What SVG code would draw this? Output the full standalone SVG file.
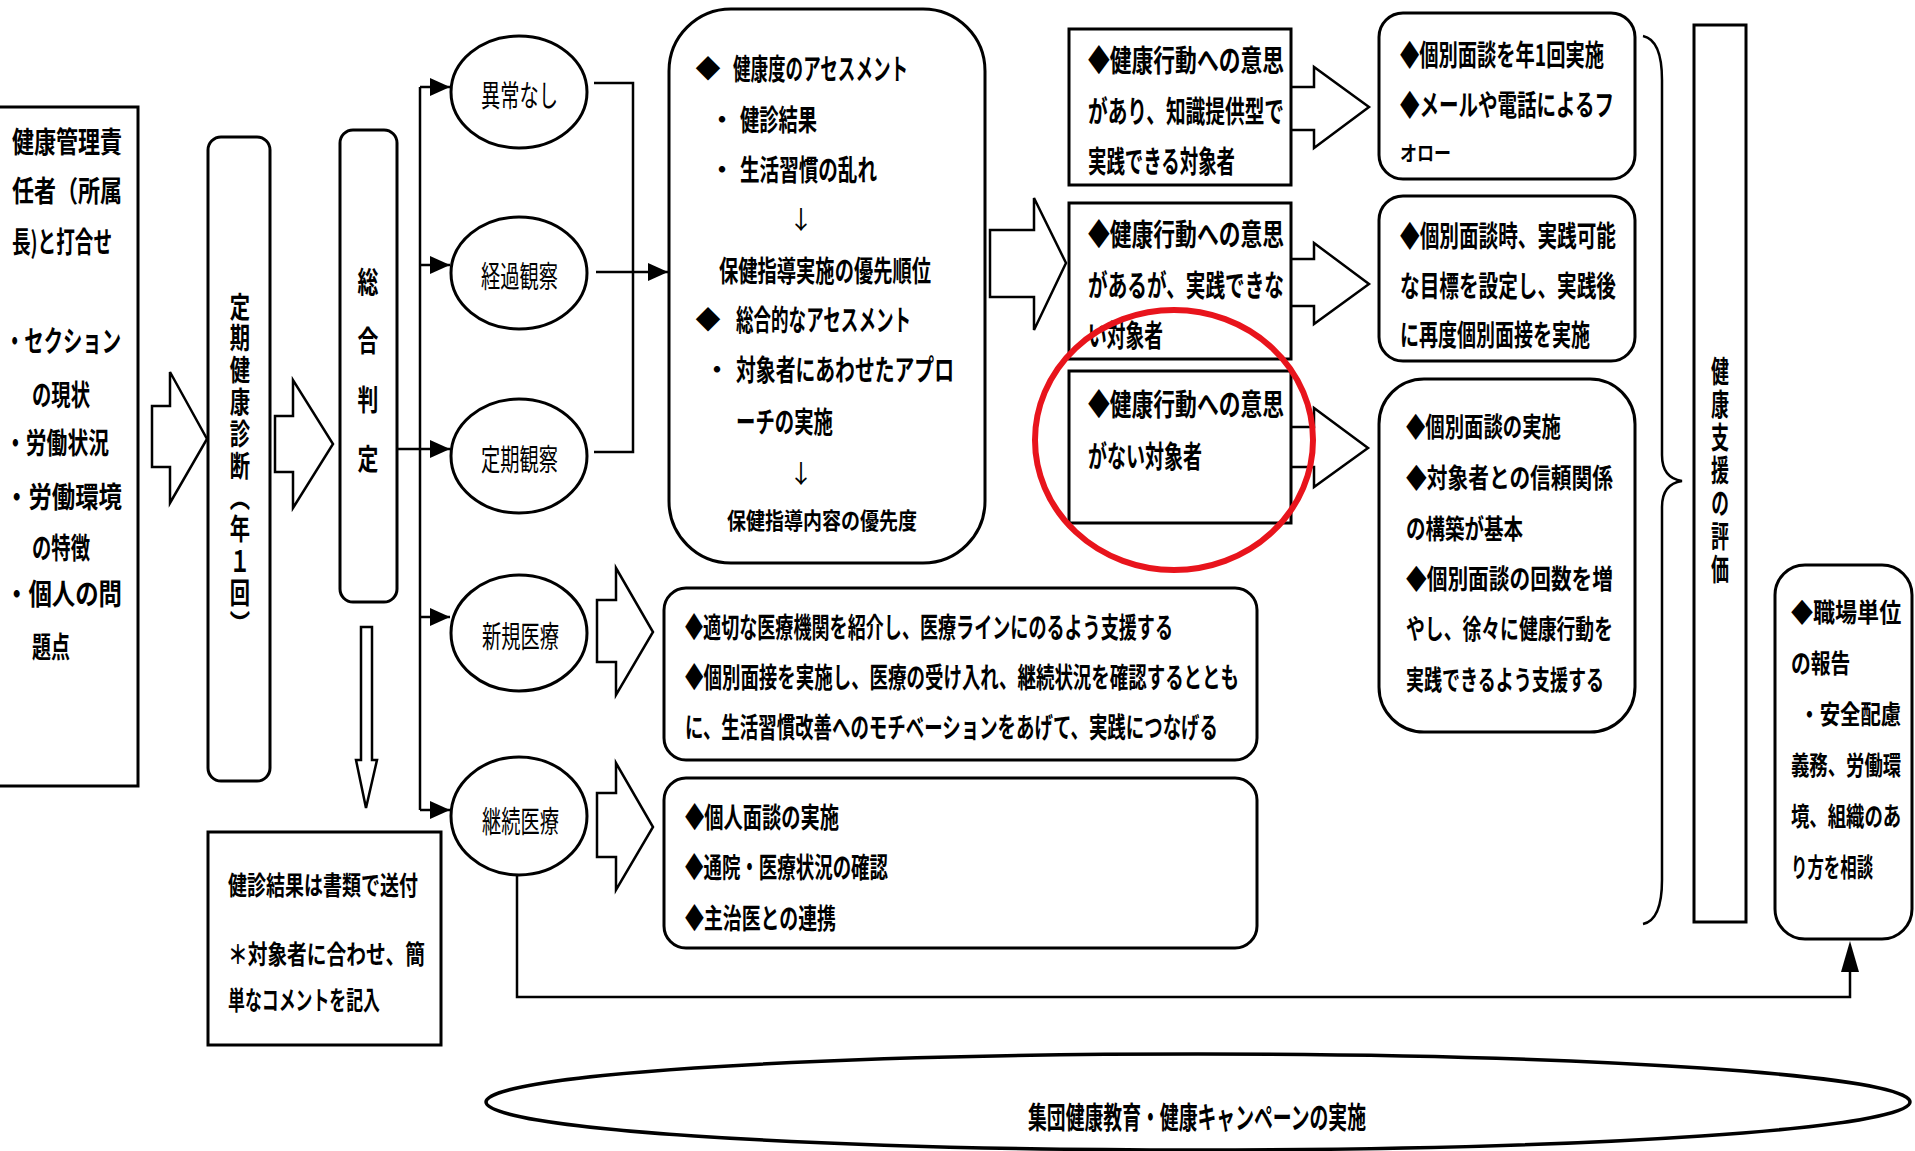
<svg xmlns="http://www.w3.org/2000/svg" width="1915" height="1151" viewBox="0 0 1915 1151">
<defs>
<style>
text{font-family:"Noto Sans CJK JP","Noto Sans CJK SC",sans-serif;font-weight:700;fill:#000;dominant-baseline:central;}
.n{font-weight:400;}
.v{writing-mode:vertical-rl;}
.box{fill:#fff;stroke:#000;stroke-width:3;}
.ln{fill:none;stroke:#000;stroke-width:2.5;}
.ba{fill:#fff;stroke:#000;stroke-width:2.5;stroke-linejoin:miter;}
.f27{font-size:28px;}
.f28{font-size:29px;}
.f29{font-size:30px;}
.f25{font-size:25px;}
.f26{font-size:26px;}
.r3{font-size:27px;}
</style>
<marker id="ah" viewBox="0 0 20 18" refX="20" refY="9" markerWidth="20" markerHeight="18" markerUnits="userSpaceOnUse" orient="auto">
<path d="M0,0 L20,9 L0,18 Z" fill="#000"/>
</marker>
</defs>
<rect width="1915" height="1151" fill="#fff"/>

<g id="connectors">
<path class="ln" d="M420,87 V810 M397,449 H420"/>
<path class="ln" d="M420,87 H450" marker-end="url(#ah)"/>
<path class="ln" d="M420,265 H450" marker-end="url(#ah)"/>
<path class="ln" d="M420,449 H450" marker-end="url(#ah)"/>
<path class="ln" d="M420,617 H450" marker-end="url(#ah)"/>
<path class="ln" d="M420,810 H450" marker-end="url(#ah)"/>
<path class="ln" d="M594,83 H633 V452 H594"/>
<path class="ln" d="M596,272 H668" marker-end="url(#ah)"/>
<path class="ln" d="M517,875 V997 H1850 V970"/>
<path d="M1850,941 L1841,972 L1859,972 Z" fill="#000"/>
<path class="ba" d="M361,627 H372 V760 H377 L366,808 L356,760 H361 Z"/>
<polygon class="ba" points="152,406 170,406 170,372 207,439 170,503 170,467 152,467"/>
<polygon class="ba" points="275,416 293,416 293,380 333,444 293,508 293,472 275,472"/>
<polygon class="ba" points="990,230 1034,230 1034,198 1066,263 1034,330 1034,297 990,297"/>
<polygon class="ba" points="1289,87 1314,87 1314,67 1369,107 1314,148 1314,130 1289,130"/>
<polygon class="ba" points="1289,259 1314,259 1314,243 1369,284 1314,324 1314,306 1289,306"/>
<polygon class="ba" points="1289,427 1314,427 1314,408 1368,448 1314,487 1314,467 1289,467"/>
<polygon class="ba" points="597,600 616,600 616,568 653,632 616,695 616,662 597,662"/>
<polygon class="ba" points="597,793 616,793 616,763 653,827 616,890 616,857 597,857"/>
<path class="ln" d="M1643,36 Q1662,40 1662,80 L1662,455 Q1662,478 1682,481 Q1662,484 1662,507 L1662,880 Q1662,920 1643,924"/>
</g>

<g id="n-kanri">
<rect class="box" x="-3" y="107" width="141" height="679"/>
<text class="f28" x="12" y="140" textLength="110" lengthAdjust="spacingAndGlyphs">健康管理責</text>
<text class="f28" x="12" y="189" textLength="110" lengthAdjust="spacingAndGlyphs">任者（所属</text>
<text class="f28" x="12" y="240" textLength="100" lengthAdjust="spacingAndGlyphs">長)と打合せ</text>
<text class="f28" x="5" y="339" textLength="116" lengthAdjust="spacingAndGlyphs">・セクション</text>
<text class="f28" x="32" y="393" textLength="58" lengthAdjust="spacingAndGlyphs">の現状</text>
<text class="f28" x="5" y="441" textLength="104" lengthAdjust="spacingAndGlyphs">・労働状況</text>
<text class="f28" x="5" y="495" textLength="117" lengthAdjust="spacingAndGlyphs">・労働環境</text>
<text class="f28" x="32" y="546" textLength="58" lengthAdjust="spacingAndGlyphs">の特徴</text>
<text class="f28" x="5" y="592" textLength="117" lengthAdjust="spacingAndGlyphs">・個人の問</text>
<text class="f28" x="32" y="645" textLength="38" lengthAdjust="spacingAndGlyphs">題点</text>
</g>

<g id="n-teiki">
<rect class="box" x="208" y="137" width="62" height="644" rx="13"/>
<g transform="translate(240,0) scale(0.7,1)">
<text class="v" font-size="29" x="0" y="292" style="letter-spacing:2.8px">定期健康診断（年１回）</text>
</g>
</g>

<g id="n-sougou">
<rect class="box" x="340" y="130" width="57" height="472" rx="13"/>
<g transform="translate(368,0) scale(0.72,1)">
<text class="v" font-size="29" x="0" y="268" style="letter-spacing:30px">総合判定</text>
</g>
</g>

<g id="n-kenshin">
<rect class="box" x="208" y="832" width="233" height="213"/>
<text class="f26" x="228" y="883" textLength="190" lengthAdjust="spacingAndGlyphs">健診結果は書類で送付</text>
<text class="f26" x="228" y="952" textLength="197" lengthAdjust="spacingAndGlyphs">＊対象者に合わせ、簡</text>
<text class="f26" x="228" y="998" textLength="152" lengthAdjust="spacingAndGlyphs">単なコメントを記入</text>
</g>

<g id="n-ijou"><ellipse class="box" cx="519" cy="92" rx="68" ry="56"/><text class="n" font-size="30" x="481" y="93" textLength="77" lengthAdjust="spacingAndGlyphs">異常なし</text></g>
<g id="n-keika"><ellipse class="box" cx="519" cy="273" rx="68" ry="56"/><text class="n" font-size="30" x="481" y="274" textLength="77" lengthAdjust="spacingAndGlyphs">経過観察</text></g>
<g id="n-teikan"><ellipse class="box" cx="519" cy="456" rx="68" ry="57"/><text class="n" font-size="30" x="481" y="457" textLength="77" lengthAdjust="spacingAndGlyphs">定期観察</text></g>
<g id="n-shinki"><ellipse class="box" cx="519" cy="633" rx="68" ry="58"/><text class="n" font-size="30" x="482" y="634" textLength="77" lengthAdjust="spacingAndGlyphs">新規医療</text></g>
<g id="n-keizoku"><ellipse class="box" cx="519" cy="816" rx="68" ry="59"/><text class="n" font-size="30" x="482" y="819" textLength="77" lengthAdjust="spacingAndGlyphs">継続医療</text></g>

<g id="n-assess">
<rect class="box" x="669" y="9" width="316" height="554" rx="62"/>
<text class="f25" x="708" y="67" text-anchor="middle">◆</text>
<text class="f28" x="733" y="67" textLength="175" lengthAdjust="spacingAndGlyphs">健康度のアセスメント</text>
<text class="f25" x="722" y="118" text-anchor="middle">・</text>
<text class="f28" x="740" y="118" textLength="77" lengthAdjust="spacingAndGlyphs">健診結果</text>
<text class="f25" x="722" y="168" text-anchor="middle">・</text>
<text class="f28" x="740" y="168" textLength="137" lengthAdjust="spacingAndGlyphs">生活習慣の乱れ</text>
<text class="f25 n" x="801" y="218" text-anchor="middle">↓</text>
<text class="f28" x="719" y="269" textLength="212" lengthAdjust="spacingAndGlyphs">保健指導実施の優先順位</text>
<text class="f25" x="708" y="318" text-anchor="middle">◆</text>
<text class="f28" x="736" y="318" textLength="175" lengthAdjust="spacingAndGlyphs">総合的なアセスメント</text>
<text class="f25" x="717" y="368" text-anchor="middle">・</text>
<text class="f28" x="736" y="368" textLength="218" lengthAdjust="spacingAndGlyphs">対象者にあわせたアプロ</text>
<text class="f28" x="736" y="420" textLength="97" lengthAdjust="spacingAndGlyphs">ーチの実施</text>
<text class="f25 n" x="801" y="472" text-anchor="middle">↓</text>
<text x="727" y="519" font-size="23" textLength="190" lengthAdjust="spacingAndGlyphs">保健指導内容の優先度</text>
</g>

<g id="n-a">
<rect class="box" x="1069" y="29" width="222" height="156"/>
<text class="f29" x="1088" y="58" textLength="196" lengthAdjust="spacingAndGlyphs">◆健康行動への意思</text>
<text class="f29" x="1088" y="109" textLength="196" lengthAdjust="spacingAndGlyphs">があり、知識提供型で</text>
<text class="f29" x="1088" y="159" textLength="147" lengthAdjust="spacingAndGlyphs">実践できる対象者</text>
</g>
<g id="n-b">
<rect class="box" x="1069" y="203" width="222" height="156"/>
<text class="f29" x="1088" y="232" textLength="196" lengthAdjust="spacingAndGlyphs">◆健康行動への意思</text>
<text class="f29" x="1088" y="283" textLength="196" lengthAdjust="spacingAndGlyphs">があるが、実践できな</text>
<text class="f29" x="1088" y="333" textLength="75" lengthAdjust="spacingAndGlyphs">い対象者</text>
</g>
<g id="n-c">
<rect class="box" x="1069" y="371" width="222" height="152"/>
<text class="f29" x="1088" y="402" textLength="196" lengthAdjust="spacingAndGlyphs">◆健康行動への意思</text>
<text class="f29" x="1088" y="454" textLength="114" lengthAdjust="spacingAndGlyphs">がない対象者</text>
</g>

<g id="n-r1">
<rect class="box" x="1379" y="13" width="256" height="166" rx="24"/>
<text class="f28" x="1400" y="53" textLength="204" lengthAdjust="spacingAndGlyphs">◆個別面談を年1回実施</text>
<text class="f28" x="1400" y="103" textLength="214" lengthAdjust="spacingAndGlyphs">◆メールや電話によるフ</text>
<text x="1400" y="152" font-size="20" textLength="51" lengthAdjust="spacingAndGlyphs">オロー</text>
</g>
<g id="n-r2">
<rect class="box" x="1379" y="196" width="256" height="165" rx="24"/>
<text class="f28" x="1400" y="234" textLength="216" lengthAdjust="spacingAndGlyphs">◆個別面談時、実践可能</text>
<text class="f28" x="1400" y="284" textLength="216" lengthAdjust="spacingAndGlyphs">な目標を設定し、実践後</text>
<text class="f28" x="1400" y="333" textLength="190" lengthAdjust="spacingAndGlyphs">に再度個別面接を実施</text>
</g>
<g id="n-r3">
<rect class="box" x="1379" y="379" width="256" height="353" rx="45"/>
<text class="r3" x="1406" y="425" textLength="155" lengthAdjust="spacingAndGlyphs">◆個別面談の実施</text>
<text class="r3" x="1406" y="476" textLength="207" lengthAdjust="spacingAndGlyphs">◆対象者との信頼関係</text>
<text class="r3" x="1406" y="527" textLength="117" lengthAdjust="spacingAndGlyphs">の構築が基本</text>
<text class="r3" x="1406" y="577" textLength="207" lengthAdjust="spacingAndGlyphs">◆個別面談の回数を増</text>
<text class="r3" x="1406" y="627" textLength="207" lengthAdjust="spacingAndGlyphs">やし、徐々に健康行動を</text>
<text class="r3" x="1406" y="678" textLength="198" lengthAdjust="spacingAndGlyphs">実践できるよう支援する</text>
</g>

<g id="n-hyouka">
<rect class="box" x="1694" y="25" width="52" height="897"/>
<g transform="translate(1720,0) scale(0.6,1)">
<text class="v" font-size="30" x="0" y="356" style="letter-spacing:3px">健康支援の評価</text>
</g>
</g>

<g id="n-shokuba">
<rect class="box" x="1775" y="565" width="137" height="374" rx="30"/>
<g transform="translate(1791,0) scale(0.76,1)">
<text class="f26" x="0" y="611" textLength="145" lengthAdjust="spacingAndGlyphs">◆職場単位</text>
<text class="f26" x="0" y="662" textLength="78" lengthAdjust="spacingAndGlyphs">の報告</text>
<text class="f26" x="11" y="713" textLength="134" lengthAdjust="spacingAndGlyphs">・安全配慮</text>
<text class="f26" x="0" y="764" textLength="145" lengthAdjust="spacingAndGlyphs">義務、労働環</text>
<text class="f26" x="0" y="815" textLength="145" lengthAdjust="spacingAndGlyphs">境、組織のあ</text>
<text class="f26" x="0" y="866" textLength="108" lengthAdjust="spacingAndGlyphs">り方を相談</text>
</g>
</g>

<g id="n-shinki-box">
<rect class="box" x="664" y="588" width="593" height="172" rx="22"/>
<text class="f27" x="685" y="626" textLength="488" lengthAdjust="spacingAndGlyphs">◆適切な医療機関を紹介し、医療ラインにのるよう支援する</text>
<text class="f27" x="685" y="676" textLength="554" lengthAdjust="spacingAndGlyphs">◆個別面接を実施し、医療の受け入れ、継続状況を確認するととも</text>
<text class="f27" x="685" y="726" textLength="533" lengthAdjust="spacingAndGlyphs">に、生活習慣改善へのモチベーションをあげて、実践につなげる</text>
</g>

<g id="n-keizoku-box">
<rect class="box" x="664" y="778" width="593" height="170" rx="22"/>
<text class="f27" x="685" y="816" textLength="154" lengthAdjust="spacingAndGlyphs">◆個人面談の実施</text>
<text class="f27" x="685" y="866" textLength="203" lengthAdjust="spacingAndGlyphs">◆通院・医療状況の確認</text>
<text class="f27" x="685" y="917" textLength="151" lengthAdjust="spacingAndGlyphs">◆主治医との連携</text>
</g>

<g id="n-campaign">
<ellipse cx="1198" cy="1102" rx="712" ry="48" fill="#fff" stroke="#000" stroke-width="3.5"/>
<text x="1028" y="1115" font-size="30" textLength="338" lengthAdjust="spacingAndGlyphs">集団健康教育・健康キャンペーンの実施</text>
</g>

<g id="highlight">
<ellipse cx="1174" cy="440" rx="139" ry="130" fill="none" stroke="#e8141c" stroke-width="6"/>
</g>
</svg>
